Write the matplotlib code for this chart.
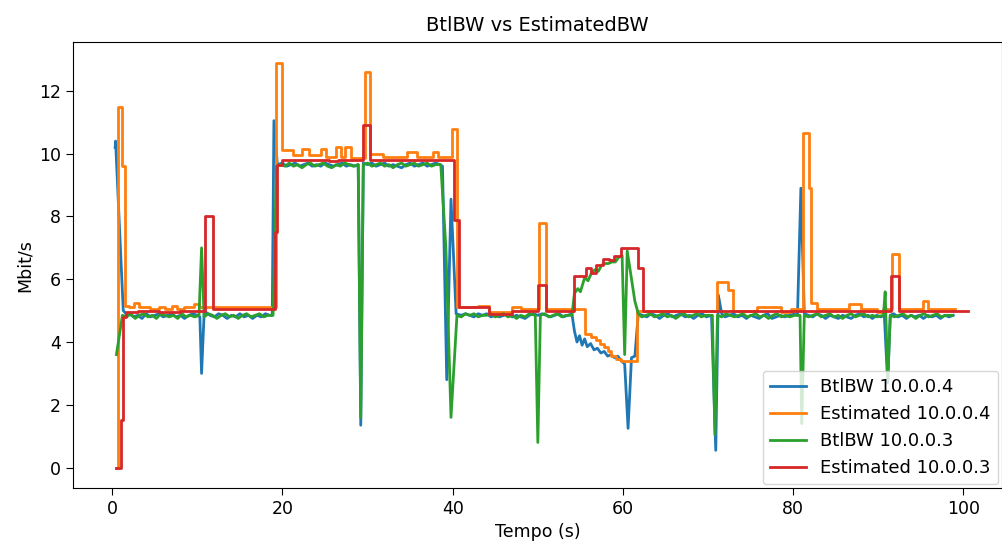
import numpy as np
import matplotlib
matplotlib.use("Agg")
import matplotlib.pyplot as plt

# BtlBW 10.0.0.4  (time s, Mbit/s)
btl4 = [
    (0.35, 10.2), (0.4, 10.4), (1.3, 5.0), (1.8, 4.85),
    (2.0, 4.9), (2.5, 4.8), (3.0, 4.85), (3.5, 4.75), (4.0, 4.9), (4.5, 4.8), (5.0, 4.85),
    (5.5, 4.9), (6.0, 4.8), (6.5, 4.85), (7.0, 4.9), (7.5, 4.8), (8.0, 4.85), (8.5, 4.75),
    (9.0, 4.85), (9.5, 4.9), (10.0, 4.85), (10.3, 4.8), (10.5, 3.0), (10.8, 4.9), (11.0, 4.95),
    (11.5, 4.85), (12.0, 4.8), (12.5, 4.9), (13.0, 4.85), (13.5, 4.75), (14.0, 4.85), (14.5, 4.8),
    (15.0, 4.9), (15.5, 4.8), (16.0, 4.85), (16.5, 4.75), (17.0, 4.85), (17.5, 4.8), (18.0, 4.9),
    (18.5, 4.85), (18.8, 4.85), (19.0, 11.05), (19.4, 9.65),
    (20.0, 9.7), (20.5, 9.6), (21.0, 9.65), (21.5, 9.7), (22.0, 9.6), (22.5, 9.65), (23.0, 9.7),
    (23.5, 9.6), (24.0, 9.65), (24.5, 9.6), (25.0, 9.7), (25.5, 9.65), (26.0, 9.6), (26.5, 9.65),
    (27.0, 9.7), (27.5, 9.6), (28.0, 9.65), (28.5, 9.6), (28.9, 9.65), (29.2, 1.35), (29.5, 9.7),
    (30.0, 9.65), (30.5, 9.7), (31.0, 9.6), (31.5, 9.65), (32.0, 9.7), (32.5, 9.6), (33.0, 9.65),
    (33.5, 9.6), (34.0, 9.55), (34.5, 9.65), (35.0, 9.7), (35.5, 9.6), (36.0, 9.65), (36.5, 9.7),
    (37.0, 9.6), (37.5, 9.65), (38.0, 9.7), (38.5, 9.65), (38.8, 9.6),
    (39.3, 2.8), (39.8, 8.55), (40.4, 4.9),
    (41.0, 4.85), (41.5, 4.9), (42.0, 4.85), (42.5, 4.8), (43.0, 4.9), (43.5, 4.85), (44.0, 4.9),
    (44.5, 4.8), (45.0, 4.85), (45.5, 4.8), (46.0, 4.85), (46.5, 4.9), (47.0, 4.8), (47.5, 4.85),
    (48.0, 4.8), (48.5, 4.75), (49.0, 4.85), (49.5, 4.9), (50.0, 4.85), (50.5, 4.9), (51.0, 4.85),
    (51.5, 4.8), (52.0, 4.85), (52.5, 4.9), (53.0, 4.8), (53.5, 4.85), (54.0, 4.9),
    (54.3, 4.35), (54.6, 4.0), (54.9, 4.2), (55.2, 3.9), (55.5, 4.1), (55.8, 3.85), (56.2, 3.95),
    (56.6, 3.75), (57.0, 3.8), (57.4, 3.65), (57.8, 3.7), (58.2, 3.55), (58.6, 3.6), (59.0, 3.5),
    (59.4, 3.55), (59.8, 3.4), (60.2, 3.3), (60.6, 1.25), (61.0, 3.5), (61.4, 3.55), (61.8, 4.9),
    (62.3, 4.85), (62.8, 4.8), (63.3, 4.9), (63.8, 4.85), (64.3, 4.75), (64.8, 4.85), (65.3, 4.9),
    (65.8, 4.8), (66.3, 4.85), (66.8, 4.9), (67.3, 4.8), (67.8, 4.85), (68.3, 4.75), (68.8, 4.85),
    (69.3, 4.9), (69.8, 4.8), (70.4, 4.85), (70.9, 0.55), (71.2, 5.5), (71.6, 4.9),
    (72.0, 4.8), (72.5, 4.85), (73.0, 4.9), (73.5, 4.8), (74.0, 4.85), (74.5, 4.75), (75.0, 4.85),
    (75.5, 4.8), (76.0, 4.75), (76.5, 4.85), (77.0, 4.9), (77.5, 4.75), (78.0, 4.8), (78.5, 4.85),
    (79.0, 4.8), (79.5, 4.85), (80.0, 4.9), (80.5, 4.85), (80.9, 8.9), (81.3, 4.9),
    (81.8, 4.85), (82.3, 4.8), (82.8, 4.9), (83.3, 4.85), (83.8, 4.75), (84.3, 4.85), (84.8, 4.8),
    (85.3, 4.75), (85.8, 4.85), (86.3, 4.8), (86.8, 4.75), (87.3, 4.85), (87.8, 4.9), (88.3, 4.8),
    (88.8, 4.85), (89.3, 4.75), (89.8, 4.85), (90.3, 4.8), (90.7, 4.85), (91.1, 2.7), (91.4, 4.85),
    (91.8, 4.9), (92.3, 4.8), (92.8, 4.85), (93.3, 4.75), (93.8, 4.85), (94.3, 4.8), (94.8, 4.85),
    (95.3, 4.75), (95.8, 4.85), (96.3, 4.8), (96.8, 4.85), (97.3, 4.75), (97.8, 4.85), (98.3, 4.8),
    (98.8, 4.85),
]

# Estimated 10.0.0.4  (step changes)
est4 = [
    (0.4, 0.0), (0.7, 11.5), (1.15, 9.6), (1.5, 5.15), (2.0, 5.1), (2.6, 5.25), (3.2, 5.1),
    (4.5, 5.05), (5.5, 5.1), (6.2, 5.05), (7.0, 5.15), (7.6, 5.05), (8.4, 5.1), (9.6, 5.2),
    (10.2, 5.1), (12.0, 5.1), (19.2, 12.9), (19.9, 10.1), (21.2, 9.95), (22.3, 10.15),
    (23.1, 9.95), (24.5, 10.15), (25.1, 9.9), (26.3, 10.2), (26.9, 9.9), (27.4, 10.2), (28.1, 9.85),
    (29.7, 12.6), (30.3, 10.0), (31.8, 9.9), (34.6, 10.05), (35.8, 9.9), (37.7, 10.05),
    (38.3, 9.9), (39.9, 10.8), (40.5, 5.1), (43.0, 5.15), (44.3, 4.95), (47.0, 5.1), (48.0, 5.05),
    (50.1, 7.8), (51.0, 5.05), (55.5, 4.25), (56.2, 4.15), (56.8, 4.05), (57.3, 3.95),
    (57.8, 3.85), (58.2, 3.7), (58.6, 3.55), (59.2, 3.45), (59.8, 3.4), (61.6, 5.0), (71.0, 5.9),
    (72.3, 5.65), (72.9, 5.0), (75.8, 5.1), (78.6, 4.95), (79.7, 5.05), (81.2, 10.65),
    (81.9, 8.9), (82.1, 5.25), (82.8, 5.05), (86.5, 5.2), (88.0, 5.05), (89.8, 4.95),
    (90.5, 5.05), (91.6, 6.8), (92.4, 5.05), (95.2, 5.3), (95.8, 5.05), (99.0, 5.05),
]

# BtlBW 10.0.0.3
btl3 = [
    (0.5, 3.6), (1.2, 4.85), (1.7, 4.8), (2.2, 4.9), (2.7, 4.75), (3.2, 4.85), (3.7, 4.9),
    (4.2, 4.8), (4.7, 4.85), (5.2, 4.75), (5.7, 4.9), (6.2, 4.85), (6.7, 4.8), (7.2, 4.85),
    (7.7, 4.75), (8.2, 4.9), (8.7, 4.8), (9.2, 4.85), (9.7, 4.8), (10.2, 4.85), (10.5, 7.0),
    (10.8, 4.8), (11.3, 4.9), (11.8, 4.85), (12.3, 4.75), (12.8, 4.85), (13.3, 4.9), (13.8, 4.8),
    (14.3, 4.85), (14.8, 4.75), (15.3, 4.85), (15.8, 4.9), (16.3, 4.8), (16.8, 4.85), (17.3, 4.9),
    (17.8, 4.8), (18.3, 4.85), (18.9, 4.85), (19.3, 9.6), (19.8, 9.65),
    (20.3, 9.6), (20.8, 9.7), (21.3, 9.6), (21.8, 9.65), (22.3, 9.55), (22.8, 9.65), (23.3, 9.7),
    (23.8, 9.6), (24.3, 9.65), (24.8, 9.7), (25.3, 9.6), (25.8, 9.55), (26.3, 9.65), (26.8, 9.6),
    (27.3, 9.7), (27.8, 9.65), (28.3, 9.6), (28.9, 9.65), (29.2, 1.6), (29.5, 9.65),
    (30.0, 9.7), (30.5, 9.6), (31.0, 9.65), (31.5, 9.7), (32.0, 9.6), (32.5, 9.65), (33.0, 9.55),
    (33.5, 9.65), (34.0, 9.7), (34.5, 9.6), (35.0, 9.65), (35.5, 9.7), (36.0, 9.6), (36.5, 9.65),
    (37.0, 9.7), (37.5, 9.6), (38.0, 9.65), (38.6, 9.65), (39.2, 7.0), (39.8, 1.6), (40.5, 4.85),
    (41.0, 4.8), (41.5, 4.9), (42.0, 4.85), (42.5, 4.9), (43.0, 4.8), (43.5, 4.85), (44.0, 4.85),
    (44.5, 4.9), (45.0, 4.8), (45.5, 4.85), (46.0, 4.9), (46.5, 4.8), (47.0, 4.85), (47.5, 4.75),
    (48.0, 4.85), (48.5, 4.8), (49.0, 4.9), (49.7, 4.85), (50.0, 0.8), (50.3, 4.85),
    (50.8, 4.9), (51.3, 4.8), (51.8, 4.85), (52.3, 4.9), (52.8, 4.8), (53.3, 4.85), (54.0, 4.85),
    (54.3, 5.55), (54.7, 5.7), (55.0, 5.6), (55.5, 6.05), (55.9, 5.95), (56.3, 6.2), (56.7, 6.3),
    (57.1, 6.25), (57.5, 6.45), (57.9, 6.5), (58.3, 6.5), (58.7, 6.55), (59.1, 6.55), (59.5, 6.7),
    (59.9, 6.75), (60.2, 3.6), (60.5, 6.9), (61.0, 6.0), (61.4, 5.3), (61.8, 4.9),
    (62.2, 4.8), (62.7, 4.85), (63.2, 4.9), (63.7, 4.8), (64.2, 4.85), (64.7, 4.9), (65.2, 4.8),
    (65.7, 4.85), (66.2, 4.75), (66.7, 4.85), (67.2, 4.9), (67.7, 4.8), (68.2, 4.85), (68.7, 4.9),
    (69.2, 4.8), (69.7, 4.85), (70.5, 4.85), (70.8, 1.05), (71.1, 4.85),
    (71.6, 4.8), (72.1, 4.9), (72.6, 4.85), (73.1, 4.8), (73.6, 4.85), (74.1, 4.9), (74.6, 4.8),
    (75.1, 4.85), (75.6, 4.9), (76.1, 4.8), (76.6, 4.85), (77.1, 4.75), (77.6, 4.85), (78.1, 4.9),
    (78.6, 4.8), (79.1, 4.85), (79.6, 4.8), (80.2, 4.85), (80.8, 4.85), (81.0, 1.4), (81.3, 4.85),
    (81.8, 4.8), (82.3, 4.85), (82.8, 4.9), (83.3, 4.8), (83.8, 4.85), (84.3, 4.9), (84.8, 4.8),
    (85.3, 4.85), (85.8, 4.75), (86.3, 4.85), (86.8, 4.9), (87.3, 4.8), (87.8, 4.85), (88.3, 4.9),
    (88.8, 4.8), (89.3, 4.85), (89.8, 4.8), (90.6, 4.85), (90.8, 5.6), (91.1, 2.8), (91.4, 4.85),
    (91.9, 4.8), (92.4, 4.85), (92.9, 4.9), (93.4, 4.8), (93.9, 4.85), (94.4, 4.75), (94.9, 4.85),
    (95.4, 4.9), (95.9, 4.8), (96.4, 4.85), (96.9, 4.9), (97.4, 4.8), (97.9, 4.85), (98.7, 4.85),
]

# Estimated 10.0.0.3  (step changes)
est3 = [
    (0.45, 0.0), (1.0, 1.5), (1.25, 4.8), (1.6, 4.95), (3.0, 5.0), (5.5, 4.95), (8.0, 5.0),
    (10.9, 8.0), (11.8, 5.05), (19.1, 7.5), (19.4, 9.65), (20.0, 9.8), (25.5, 9.75), (26.5, 9.8),
    (29.5, 10.9), (30.3, 9.8), (40.1, 7.9), (40.7, 5.1), (44.3, 4.9), (47.0, 5.0), (50.0, 5.8),
    (51.0, 5.0), (54.3, 6.1), (55.6, 6.35), (56.3, 6.2), (56.8, 6.45), (57.6, 6.65), (58.4, 6.6),
    (58.9, 6.75), (59.8, 7.0), (61.8, 6.35), (62.4, 5.0), (91.5, 6.1), (92.4, 5.0), (100.5, 5.0),
]

labels = ['BtlBW 10.0.0.4', 'Estimated 10.0.0.4', 'BtlBW 10.0.0.3', 'Estimated 10.0.0.3']

fig = plt.figure(figsize=(10.03, 5.45), dpi=100)
ax = fig.add_axes([0.0728, 0.1046, 0.926, 0.818])

lw = 2.0
for data, lab in zip([btl4, est4, btl3, est3], labels):
    t, v = zip(*data)
    if lab.startswith('Estimated'):
        ax.plot(t, v, label=lab, lw=lw, drawstyle='steps-post')
    else:
        ax.plot(t, v, label=lab, lw=lw)

ax.set_xlim(-4.6, 104.5)
ax.set_ylim(-0.65, 13.55)
ax.set_xticks([0, 20, 40, 60, 80, 100])
ax.set_yticks([0, 2, 4, 6, 8, 10, 12])
ax.tick_params(labelsize=12.5, length=5)
ax.set_title('BtlBW vs EstimatedBW', fontsize=14, pad=8)
ax.set_xlabel('Tempo (s)', fontsize=12.5)
ax.set_ylabel('Mbit/s', fontsize=12.5)
ax.legend(loc='lower right', fontsize=13, borderaxespad=0.2)

fig.savefig('out.png', dpi=100)
